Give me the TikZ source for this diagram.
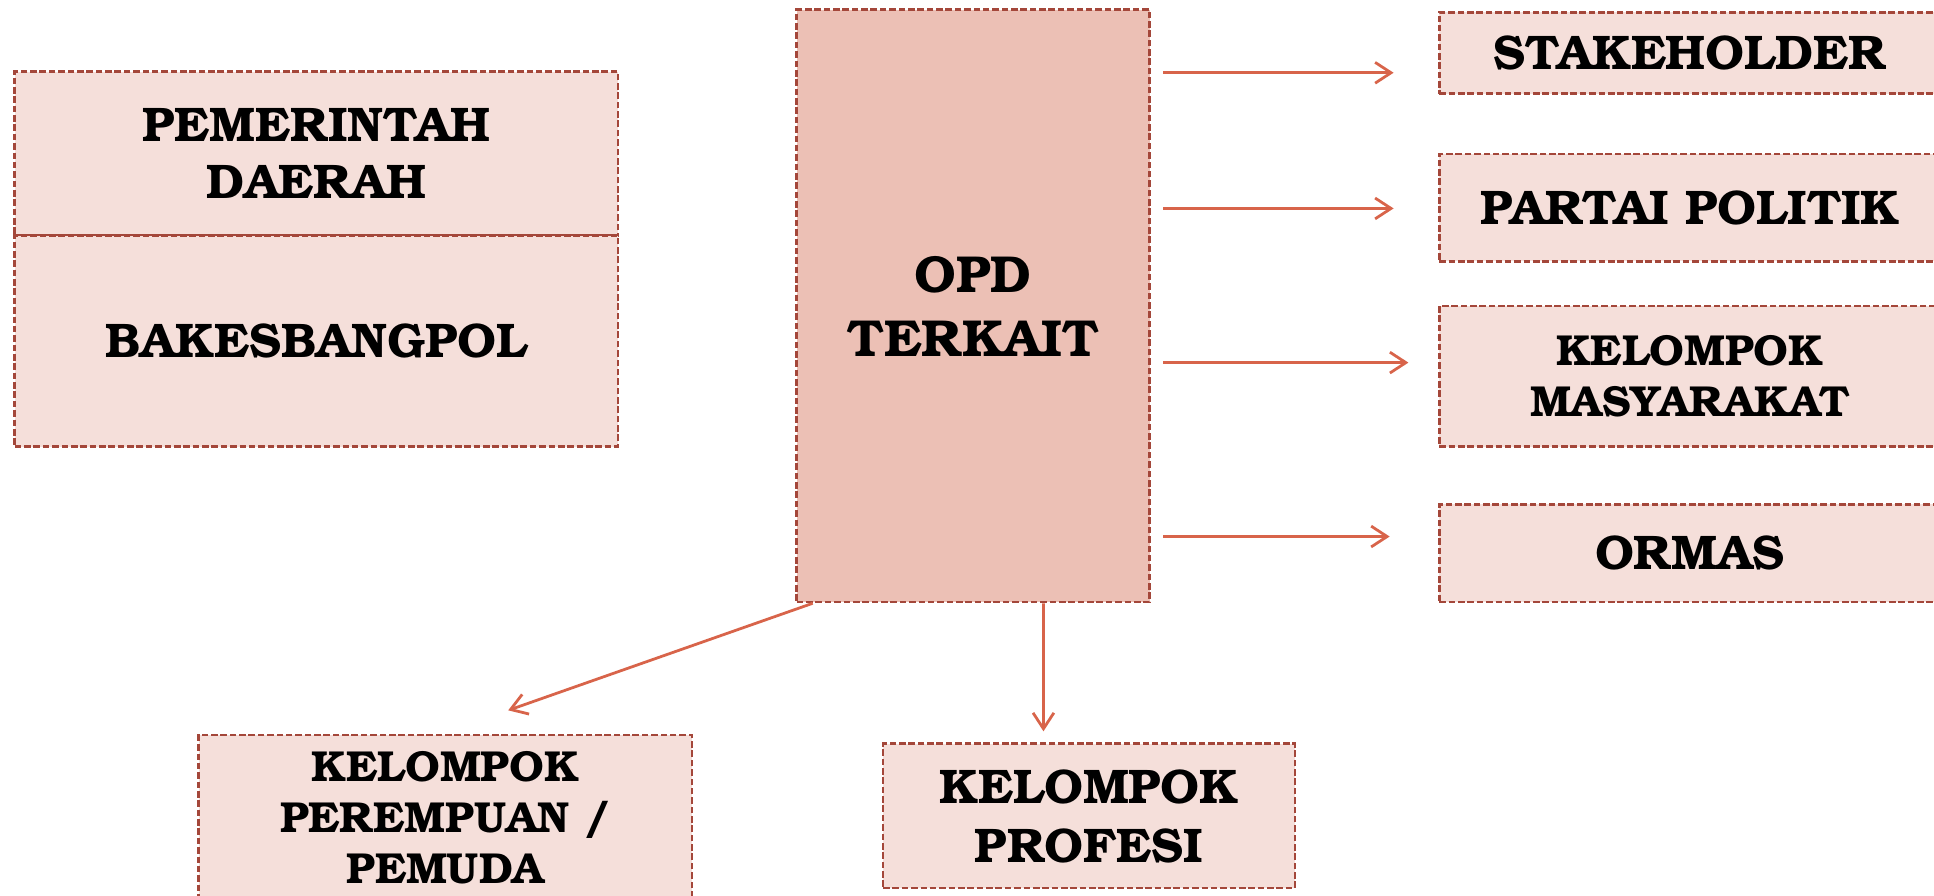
\documentclass[tikz,border=0pt]{standalone}
\usepackage[T1]{fontenc}
\usepackage{bookman}
\usepackage{xcolor}
\usepackage{tikz}
\usetikzlibrary{shapes,arrows,arrows.meta,positioning}

\definecolor{boxfill}{HTML}{F5DFDA}
\definecolor{opdfill}{HTML}{ECC0B5}
\definecolor{boxline}{HTML}{A4473A}
\definecolor{arrowred}{HTML}{D8644A}

\begin{document}
\begin{tikzpicture}[
    x=0.0125cm, y=-0.0125cm,
    box/.style={rectangle, draw=boxline, fill=boxfill, line width=0.75pt, dash pattern=on 1.9pt off 0.8pt,
        align=center, inner sep=0pt, font=\bfseries\fontsize{14}{16.4}\selectfont},
    smallbox/.style={box, font=\bfseries\fontsize{12.5}{14.6}\selectfont},
    opdbox/.style={box, fill=opdfill, font=\bfseries\fontsize{15}{18.5}\selectfont},
    arrow/.style={-{Straight Barb[length=4.6pt,width=6pt]}, draw=arrowred, line width=0.8pt}
]
    \useasboundingbox (0,0) rectangle (1568,726);
    \clip (0,0) rectangle (1568,726);

    % Left block
    \node[box, minimum width=6.1125cm, minimum height=1.6625cm] (pemda) at (256.5,124.5) {PEMERINTAH\\DAERAH};
    \node[box, minimum width=6.1125cm, minimum height=2.1375cm] (bakes) at (256.5,276.5) {BAKESBANGPOL};

    % Centre
    \node[opdbox, minimum width=3.575cm, minimum height=6cm] (opd) at (789,248) {OPD\\TERKAIT};

    % Right column
    \node[box, minimum width=5.075cm, minimum height=0.825cm] (stake) at (1370,43) {STAKEHOLDER};
    \node[box, minimum width=5.075cm, minimum height=1.0875cm] (parpol) at (1370,168.5) {PARTAI POLITIK};
    \node[smallbox, minimum width=5.075cm, minimum height=1.425cm] (masy) at (1370,305) {KELOMPOK\\MASYARAKAT};
    \node[box, minimum width=5.075cm, minimum height=0.9875cm] (ormas) at (1370,448.5) {ORMAS};

    % Bottom row
    \node[smallbox, minimum width=5cm, minimum height=1.675cm] (perempuan) at (361,663) {KELOMPOK\\PEREMPUAN /\\PEMUDA};
    \node[box, minimum width=4.175cm, minimum height=1.4625cm, font=\bfseries\fontsize{14}{17}\selectfont] (profesi) at (883,661.5) {KELOMPOK\\PROFESI};

    % Arrow levels
    \coordinate (lv1) at (0,59);
    \coordinate (lv2) at (0,169);
    \coordinate (lv3) at (0,294);
    \coordinate (lv4) at (0,435);

    % Arrows
    \draw[arrow, shorten <=0.125cm, shorten >=0.45cm] (opd.east |- lv1) -- (stake.west |- lv1);
    \draw[arrow, shorten <=0.125cm, shorten >=0.45cm] (opd.east |- lv2) -- (parpol.west |- lv2);
    \draw[arrow, shorten <=0.125cm, shorten >=0.3cm] (opd.east |- lv3) -- (masy.west |- lv3);
    \draw[arrow, shorten <=0.125cm, shorten >=0.49cm] (opd.east |- lv4) -- (ormas.west |- lv4);
    \draw[arrow] ([xshift=0.175cm]opd.south west) -- ([xshift=0.6375cm, yshift=0.2375cm]perempuan.north);
    \draw[arrow] ([xshift=0.7125cm]opd.south) -- ([xshift=-0.4625cm, yshift=0.1125cm]profesi.north);
\end{tikzpicture}
\end{document}
